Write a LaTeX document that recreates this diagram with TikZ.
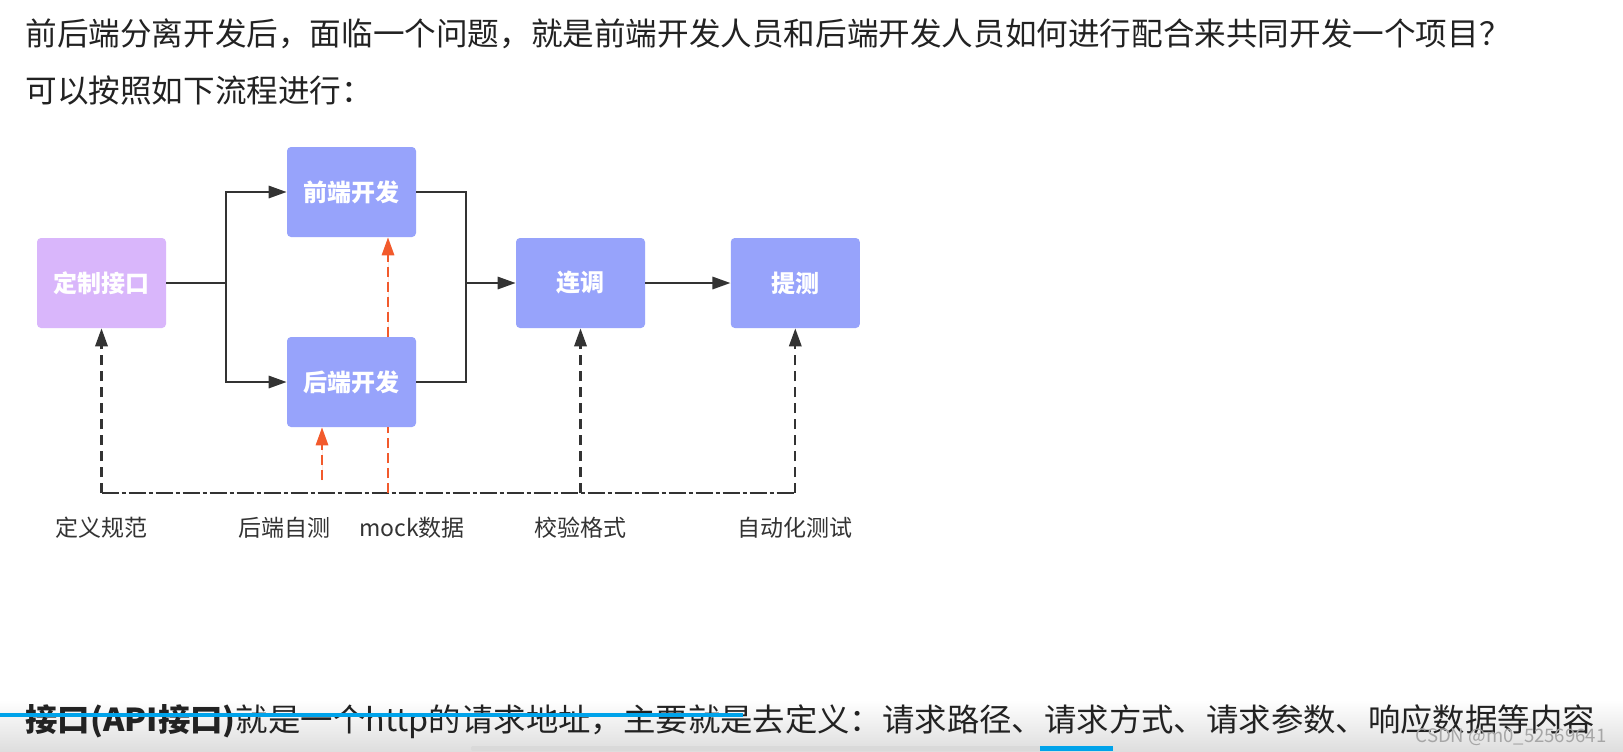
\documentclass[tikz,border=0pt]{standalone}
\usepackage{fontspec}
\setmainfont{Noto Sans CJK SC}
\usetikzlibrary{arrows.meta,positioning}
\definecolor{ink}{HTML}{222222}
\definecolor{linegray}{HTML}{333333}
\definecolor{boxblue}{HTML}{97A3FB}
\definecolor{boxpurple}{HTML}{D9B6FB}
\definecolor{mockred}{HTML}{F25A2C}
\definecolor{barblue}{HTML}{00A3EA}

\begin{document}
\begin{tikzpicture}[x=0.5pt, y=-0.5pt,
  stepbox/.style={rounded corners=2pt, fill=boxblue, text=white,
    font=\fontsize{12pt}{14pt}\selectfont\bfseries,
    minimum width=64.5pt, minimum height=45pt, inner sep=0pt},
  header/.style={font=\fontsize{15.8pt}{19pt}\selectfont, text=ink, inner sep=0pt},
  note/.style={font=\fontsize{11.5pt}{13pt}\selectfont, text=linegray, inner sep=0pt},
  line/.style={line width=1pt, draw=linegray},
  arrow/.style={line, -{Triangle[length=9pt, width=6.2pt]}},
  dasharrow/.style={arrow, line width=1.1pt, dash pattern=on 5pt off 3pt},
  reddash/.style={line width=1pt, draw=mockred, dash pattern=on 5pt off 2.5pt},
  redarrow/.style={reddash, -{Triangle[length=9pt, width=6.2pt]}, fill=mockred},
  busline/.style={line, line width=1.2pt, dash pattern=on 8.5pt off 1.5pt on 2pt off 1.5pt}
]
\useasboundingbox[fill=white] (0,0) rectangle (1623,751);
\shade[top color=white, bottom color=black!13] (0,700) rectangle (1623,751);

% question text
\node[header, anchor=west] (question) at (25,34)
  {前后端分离开发后，面临一个问题，就是前端开发人员和后端开发人员如何进行配合来共同开发一个项目？};
\node[header, anchor=west] (howto) at (25,91) {可以按照如下流程进行：};

% flow
\node[stepbox, fill=boxpurple] (api) at (101.5,283) {定制接口};
\node[stepbox] (fe) at (351.5,192) {前端开发};
\node[stepbox] (be) at (351.5,382) {后端开发};
\node[stepbox] (joint) at (580.5,283) {连调};
\node[stepbox, right=42.5pt of joint] (test) {提测};

\coordinate (split) at (226,283);
\coordinate (merge) at (466,283);
\coordinate (bus) at (0,493);

\draw[line] (api) -- (split);
\draw[arrow] (split) |- (fe);
\draw[arrow] (split) |- (be);
\draw[line] (fe) -| (merge) |- (be);
\draw[arrow] (merge) -- (joint);
\draw[arrow] (joint) -- (test);

% dashed feedback
\draw[busline] (api |- bus) -- (test |- bus);
\draw[dasharrow] (api |- bus) -- (api);
\draw[dasharrow] (joint |- bus) -- (joint);
\draw[dasharrow] (test |- bus) -- (test);

\coordinate (selftest) at (322,480);
\coordinate (mock) at (388,493);
\draw[redarrow] (selftest) -- (selftest |- be.south);
\draw[reddash] (mock) -- (mock |- be.south);
\draw[redarrow] (mock |- be.north) -- (mock |- fe.south);

\node[note] (specl) at (101.5,528) {定义规范};
\node[note] (selfl) at (284,528) {后端自测};
\node[note] (mockl) at (412,528) {mock数据};
\node[note] (checkl) at (580.5,528) {校验格式};
\node[note] (autol) at (794.5,528) {自动化测试};

% definition line
\node[header, anchor=west, xscale=1.025] (apidef) at (25,722)
  {\textbf{接口(API接口)}就是一个http的请求地址，主要就是去定义：请求路径、请求方式、请求参数、响应数据等内容};
\draw[barblue, line width=2pt] (0,715) -- (743,715);
\node[font=\fontsize{9.3pt}{10pt}\selectfont, text=black!35, anchor=east, inner sep=0pt] (mark) at (1607,737) {CSDN @m0\_52569641};
\fill[black!15, rounded corners=1pt] (471,746) rectangle (1113,751);
\fill[barblue] (1040,746) rectangle (1113,751);
\end{tikzpicture}
\end{document}
